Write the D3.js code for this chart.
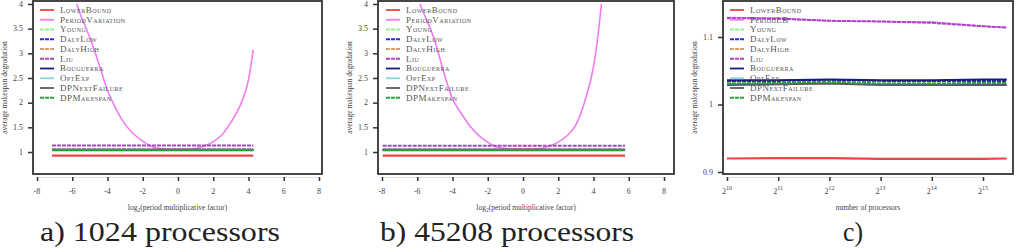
<!DOCTYPE html>
<html>
<head>
<meta charset="utf-8">
<script src="https://cdn.jsdelivr.net/npm/d3@7"></script>
<style>
  body { margin: 0; background: #fff; }
  svg { display: block; }
  text { font-family: "Liberation Serif", "DejaVu Serif", serif; fill: #444; }
  .legend text { font-variant: small-caps; font-size: 9px; letter-spacing: 0.5px; fill: #555; }
  .caption { font-size: 27px; fill: #222; }
</style>
</head>
<body>
<svg id="chart" width="1020" height="248"></svg>
<script>
// Series names and colours
const seriesNames = ["LowerBound", "PeriodVariation", "Young", "DalyLow", "DalyHigh", "Liu", "Bouguerra", "OptExp", "DPNextFailure", "DPMakespan"];
const seriesNamesC = ["LowerBound", "PeriodLB", "Young", "DalyLow", "DalyHigh", "Liu", "Bouguerra", "OptExp", "DPNextFailure", "DPMakespan"];
const seriesColors = ["#ee4444", "#f07cf0", "#98ee98", "#2a2ad8", "#d9a070", "#a844c8", "#1a1a80", "#8cd4dc", "#5a5a5a", "#2f9e3f"];
const seriesDash = [null, null, "4,1", "4,1", "4,1", "4,1", null, null, null, "4,1"];

// a) 1024 processors : constant strategies over the period range, period variation curve
const spanA = [-7.15, 4.27];
const constA = [0.925, null, 1.04, 1.045, 1.05, 1.13, 1.045, 1.04, 1.035, 1.04];
const pvXA = [-5.75, -5.5, -5, -4.5, -4, -3.5, -3, -2.5, -2, -1.5, -1, -0.5, 0, 0.5, 1, 1.5, 2, 2.5, 3, 3.5, 4, 4.27];
const pvYA = [4.0, 3.75, 3.32, 2.8, 2.25, 1.86, 1.56, 1.36, 1.22, 1.11, 1.07, 1.06, 1.06, 1.06, 1.07, 1.12, 1.21, 1.35, 1.6, 1.92, 2.46, 3.07];

// b) 45208 processors
const spanB = [-7.96, 5.79];
const constB = [0.925, null, 1.04, 1.045, 1.05, 1.125, 1.045, 1.04, 1.035, 1.04];
const pvXB = [-5.85, -5.5, -5, -4.5, -4, -3.5, -3, -2.5, -2, -1.5, -1, -0.5, 0, 0.5, 1, 1.5, 2, 2.5, 3, 3.5, 4, 4.25, 4.45];
const pvYB = [4.0, 3.7, 3.25, 2.62, 2.08, 1.78, 1.52, 1.33, 1.2, 1.1, 1.07, 1.06, 1.06, 1.06, 1.07, 1.12, 1.2, 1.33, 1.55, 2.02, 2.73, 3.35, 4.0];

// c) versus number of processors
const procs = [1024, 2048, 4096, 8192, 16384, 32768, 45208];
const valuesC = [
  [0.920, 0.9205, 0.9205, 0.9195, 0.9195, 0.9195, 0.920],   // LowerBound
  [1.129, 1.128, 1.124, 1.123, 1.122, 1.116, 1.114],        // PeriodLB
  [1.031, 1.031, 1.033, 1.031, 1.031, 1.031, 1.031],        // Young
  [1.035, 1.035, 1.036, 1.035, 1.035, 1.035, 1.035],        // DalyLow
  [1.030, 1.030, 1.032, 1.030, 1.030, 1.030, 1.030],        // DalyHigh
  [1.128, 1.127, 1.124, 1.123, 1.121, 1.116, 1.114],        // Liu
  [1.036, 1.036, 1.037, 1.036, 1.036, 1.037, 1.037],        // Bouguerra
  [1.030, 1.031, 1.032, 1.030, 1.030, 1.030, 1.030],        // OptExp
  [1.029, 1.030, 1.031, 1.029, 1.029, 1.029, 1.029],        // DPNextFailure
  [1.031, 1.032, 1.034, 1.031, 1.031, 1.032, 1.032]         // DPMakespan
];

// Tick labels
const ticksXAB = [-8, -6, -4, -2, 0, 2, 4, 6, 8];
const ticksYAB = [1, 1.5, 2, 2.5, 3, 3.5, 4];
const ticksXC = [10, 11, 12, 13, 14, 15];
const ticksYC = [0.9, 1, 1.1];
const captions = ["a) 1024 processors", "b) 45208 processors", "c)"];

const svg = d3.select("#chart");

/**
 * Draws one panel: box, axes, legend, series.
 */
function drawPanel(p) {
  const g = svg.append("g");
  const clipId = "clip" + p.id;
  g.append("clipPath").attr("id", clipId)
    .append("rect")
    .attr("x", p.box[0]).attr("y", p.box[2])
    .attr("width", p.box[1] - p.box[0]).attr("height", p.box[3] - p.box[2]);

  const plot = g.append("g").attr("clip-path", `url(#${clipId})`);
  const line = d3.line().x(d => p.x(d[0])).y(d => p.y(d[1]));

  // Series, drawn in legend order
  p.series.forEach((s, i) => {
    if (!s) return;
    plot.append("path")
      .datum(s)
      .attr("d", s.curve ? line.curve(d3.curveMonotoneX)(s) : line.curve(d3.curveLinear)(s))
      .attr("fill", "none")
      .attr("stroke", seriesColors[i])
      .attr("stroke-width", i === 0 ? 2.2 : (i === 1 ? 1.6 : 2))
      .attr("stroke-dasharray", seriesDash[i]);
  });

  // Box
  g.append("rect")
    .attr("x", p.box[0]).attr("y", p.box[2])
    .attr("width", p.box[1] - p.box[0]).attr("height", p.box[3] - p.box[2])
    .attr("fill", "none").attr("stroke", "#333").attr("stroke-width", 1.8);

  // X axis
  const xa = g.append("g")
    .attr("transform", `translate(0,${p.box[3] + 3})`)
    .call(d3.axisBottom(p.x).tickValues(p.xTicks).tickSize(4).tickSizeOuter(0).tickFormat(""));
  xa.select(".domain").attr("stroke", "#ccc").attr("stroke-width", 0.6);
  xa.selectAll(".tick line").attr("stroke", "#333").attr("stroke-width", 1.5);

  const xl = g.append("g").selectAll("text").data(p.xTicks).join("text")
    .attr("x", d => p.x(d)).attr("y", p.box[3] + 20)
    .attr("text-anchor", "middle").attr("font-size", 8);
  if (p.powerTicks) {
    xl.text("2").append("tspan").attr("dy", -4).attr("font-size", 6).text(d => d);
  } else {
    xl.text(d => d);
  }

  // Y axis
  const ya = g.append("g")
    .attr("transform", `translate(${p.box[0]},0)`)
    .call(d3.axisLeft(p.y).tickValues(p.yTicks).tickSize(5).tickSizeOuter(0).tickFormat(""));
  ya.select(".domain").remove();
  ya.selectAll(".tick line").attr("stroke", "#333").attr("stroke-width", 1.5);
  g.append("g").selectAll("text").data(p.yTicks).join("text")
    .attr("x", p.box[0] - 10).attr("y", d => p.y(d)).attr("dy", "0.35em")
    .attr("text-anchor", "end").attr("font-size", 8)
    .text(d => d);

  // Axis titles
  const xt = g.append("text")
    .attr("x", (p.box[0] + p.box[1]) / 2).attr("y", p.box[3] + 36)
    .attr("text-anchor", "middle").attr("font-size", 7.5);
  if (p.powerTicks) {
    xt.text("number of processors");
  } else {
    xt.text("log").append("tspan").attr("dy", 2).attr("font-size", 5.5).text("2");
    xt.append("tspan").attr("dy", -2).text("(period multiplicative factor)");
  }
  g.append("text")
    .attr("transform", `translate(${p.box[0] - 29},${(p.box[2] + p.box[3]) / 2}) rotate(-90)`)
    .attr("text-anchor", "middle").attr("dy", "0.35em").attr("font-size", 7.5)
    .text("average makespan degradation");

  // Legend
  const lg = g.append("g").attr("class", "legend")
    .attr("transform", `translate(${p.box[0] + p.legendDx},10)`);
  p.names.forEach((name, i) => {
    const row = lg.append("g").attr("transform", `translate(0,${i * 9.75})`);
    row.append("line").attr("x1", 0).attr("x2", 14)
      .attr("stroke", seriesColors[i]).attr("stroke-width", 1.8)
      .attr("stroke-dasharray", seriesDash[i]);
    row.append("text").attr("x", 20).attr("dy", "0.32em").text(name);
  });

  // Caption
  svg.append("text").attr("class", "caption")
    .attr("x", p.captionX).attr("y", 241)
    .attr("textLength", p.captionW).attr("lengthAdjust", "spacingAndGlyphs")
    .text(p.caption);
}

// Build the series for panels a) and b)
function periodSeries(span, consts, pvX, pvY) {
  return seriesNames.map((n, i) => {
    if (i === 1) {
      const s = pvX.map((x, j) => [x, pvY[j]]);
      s.curve = true;
      return s;
    }
    return span.map(x => [x, consts[i]]);
  });
}

drawPanel({
  id: "a", box: [33, 322, 1, 174],
  x: d3.scaleLinear().domain([-8, 8]).range([37, 319]),
  y: d3.scaleLinear().domain([1, 4]).range([152, 4]),
  xTicks: ticksXAB, yTicks: ticksYAB,
  series: periodSeries(spanA, constA, pvXA, pvYA),
  names: seriesNames, legendDx: 7, caption: captions[0], captionX: 40, captionW: 240
});

drawPanel({
  id: "b", box: [378, 674, 1, 174],
  x: d3.scaleLinear().domain([-8, 8]).range([382, 664]),
  y: d3.scaleLinear().domain([1, 4]).range([152, 4]),
  xTicks: ticksXAB, yTicks: ticksYAB,
  series: periodSeries(spanB, constB, pvXB, pvYB),
  names: seriesNames, legendDx: 8, caption: captions[1], captionX: 380, captionW: 254
});

drawPanel({
  id: "c", box: [723, 1013, 1, 174],
  x: d3.scaleLinear().domain([10, 15]).range([727, 983]),
  y: d3.scaleLinear().domain([0.9, 1.1]).range([172, 37]),
  xTicks: ticksXC, yTicks: ticksYC, powerTicks: true,
  series: valuesC.map(v => procs.map((n, j) => [Math.log2(n), v[j]])),
  names: seriesNamesC, legendDx: 7, caption: captions[2], captionX: 843, captionW: 20
});
</script>
</body>
</html>
